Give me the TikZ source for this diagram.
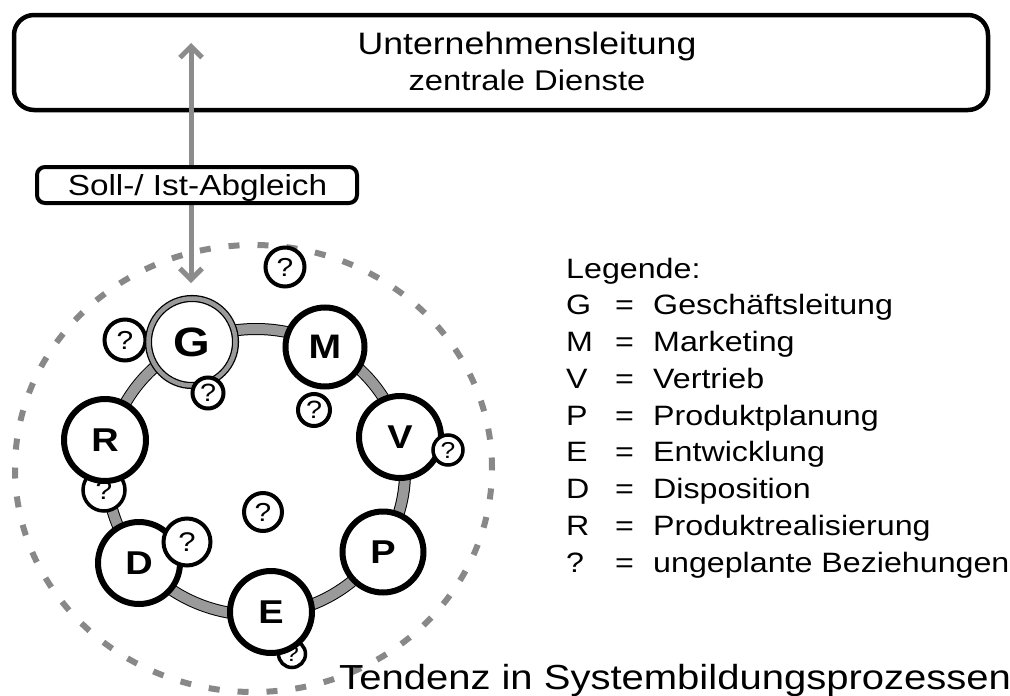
\documentclass[tikz,border=0pt]{standalone}
\usepackage{fontspec}
\setmainfont{Liberation Sans}[FakeStretch=1.15]
\usetikzlibrary{arrows.meta}
\definecolor{ringgray}{HTML}{9A9A9A}
\definecolor{arrowgray}{HTML}{8C8C8C}
\definecolor{dashgray}{HTML}{888888}
\begin{document}
\begin{tikzpicture}[x=1pt,y=-1pt,
  txt/.style={inner sep=0pt, font=\fontsize{#1}{#1}\selectfont},
  unit/.style={circle, draw=black, line width=6pt, fill=white, inner sep=0pt,
    minimum size=#1, font=\fontsize{33}{33}\selectfont\bfseries},
  qm/.style 2 args={circle, draw=black, line width=4pt, fill=white, inner sep=0pt,
    minimum size=#1, font=\fontsize{#2}{#2}\selectfont},
  box/.style={draw=black, fill=white, inner sep=0pt},
  barb/.style={arrowgray, line width=5pt,
    {Straight Barb[length=11pt,width=22pt]}-{Straight Barb[length=11pt,width=22pt]}},
]
\useasboundingbox (0,0) rectangle (1010,696);

% top box
\node[box, line width=4.5pt, rounded corners=20pt, minimum width=974pt, minimum height=95pt]
  (top) at (501,62.5) {};
\node[txt=31, anchor=base] (t1) at (527,54) {Unternehmensleitung};
\node[txt=28.5, anchor=base] (t2) at (527,90) {zentrale Dienste};

% outer dashed boundary
\draw[dashgray, line width=6pt, dash pattern=on 11pt off 18pt]
  (253.5,468.5) ellipse [x radius=238.5pt, y radius=223.5pt];

% arrow
\coordinate (abot) at (191,283);
\coordinate (atop) at (191,43);
\draw[barb] (abot) -- (atop);

% Soll/Ist box
\node[box, line width=4pt, rounded corners=8pt, minimum width=320pt, minimum height=36pt]
  (soll) at (197,185) {};
\node[txt=29, anchor=base] (sollt) at (197.5,195) {Soll-/ Ist-Abgleich};

% ring
\draw[line width=1pt, double=ringgray, double distance=10pt]
  (256,472) ellipse [x radius=149pt, y radius=143pt];

% question circles behind units
\node[qm={41}{26}] (q2) at (125,340) {?};
\node[qm={42}{26}, line width=3.5pt] (q6) at (104,490) {?};
\node[qm={27}{22}, line width=3.5pt] (q9) at (292,654) {?};

% units
\node[unit=87, line width=1.3pt, double=ringgray, double distance=4.5pt,
  font=\fontsize{41}{41}\selectfont\bfseries] (G) at (192,342) {G};
\node[unit=79, font=\fontsize{34}{34}\selectfont\bfseries] (M) at (325,347) {M};
\node[unit=82] (V) at (400,437) {V};
\node[unit=81] (P) at (383,552) {P};
\node[unit=82] (E) at (271,612) {E};
\node[unit=82] (D) at (139,563) {D};
\node[unit=82] (R) at (105,440) {R};

% question circles in front
\node[qm={39}{26}] (q1) at (285,267) {?};
\node[qm={31}{25}] (q3) at (208,393) {?};
\node[qm={32}{25}] (q4) at (314,410) {?};
\node[qm={30}{23}, line width=3.5pt] (q5) at (448,450) {?};
\node[qm={38}{26}] (q7) at (263,512) {?};
\node[qm={47}{27}] (q8) at (187,542) {?};

% legend
\node[txt=28, anchor=base west] (leg) at (566,278) {Legende:};
\foreach \l/\t [count=\i] in {G/Geschäftsleitung, M/Marketing, V/Vertrieb,
    P/Produktplanung, E/Entwicklung, D/Disposition, R/Produktrealisierung,
    ?/ungeplante Beziehungen} {
  \node[txt=28, anchor=base west] (lk\i) at (566,{278+36.75*\i}) {\l};
  \node[txt=28, anchor=base] (le\i) at (624.5,{278+36.75*\i}) {=};
  \node[txt=28, anchor=base west] (lt\i) at (653,{278+36.75*\i}) {\t};
}

% caption
\node[txt=34.8, anchor=base west] (tend) at (339,689) {Tendenz in Systembildungsprozessen};
\end{tikzpicture}
\end{document}
